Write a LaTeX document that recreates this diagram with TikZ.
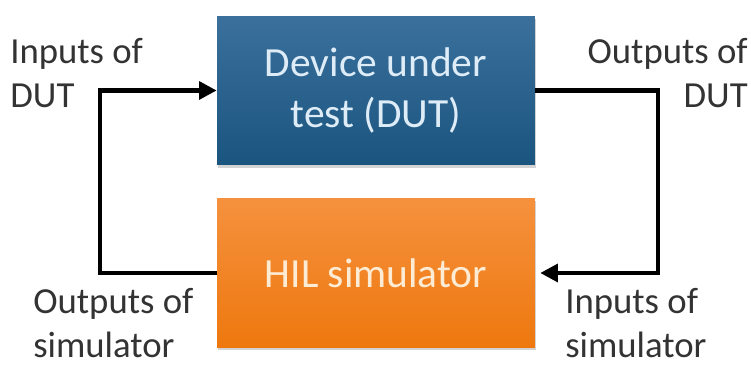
\documentclass[tikz,border=0pt]{standalone}
\usepackage{fontspec}
\setmainfont{Carlito}
\usetikzlibrary{arrows.meta,shadows}
\definecolor{dutTop}{HTML}{3B709C}
\definecolor{dutBot}{HTML}{1A557F}
\definecolor{hilTop}{HTML}{F5913E}
\definecolor{hilBot}{HTML}{EE780E}
\definecolor{dutText}{HTML}{DDECF7}
\definecolor{hilText}{HTML}{FDEBD3}

\begin{document}
\begin{tikzpicture}[x=0.02cm,y=0.02cm,
  block/.style={minimum width=6.36cm,minimum height=2.98cm,inner sep=0pt,align=center,
    font=\fontsize{23.6}{29}\selectfont,
    drop shadow={opacity=0.35,shadow xshift=0.4pt,shadow yshift=-1.6pt}},
  lbl/.style={inner sep=0pt,font=\fontsize{20.9}{25.6}\selectfont,text=black!80},
  flow/.style={line width=2.4pt,-{Triangle[length=10pt,width=10pt]}}]
\useasboundingbox (0,0) rectangle (751,367);
% Bloques
\node[block,top color=dutTop,bottom color=dutBot,text=dutText] (dut) at (376,276.5) {Device under\\test (DUT)};
\node[block,top color=hilTop,bottom color=hilBot,text=hilText] (hil) at (376,94) {HIL simulator};
% Lazo
\coordinate (lft) at (100,184);
\coordinate (rgt) at (658,184);
\draw[flow] (hil.west) -| (lft) |- (dut.west);
\draw[flow,shorten >=2.8pt] (dut.east) -| (rgt) |- (hil.east);
% Etiquetas (base = ultima linea)
\node[lbl,anchor=base west,align=left] (indut) at (10,259) {Inputs of\\DUT};
\node[lbl,anchor=base east,align=right] (outdut) at (748,259) {Outputs of\\DUT};
\node[lbl,anchor=base west,align=left] (outsim) at (33,9) {Outputs of\\simulator};
\node[lbl,anchor=base west,align=left] (insim) at (565,9) {Inputs of\\simulator};
\end{tikzpicture}
\end{document}
